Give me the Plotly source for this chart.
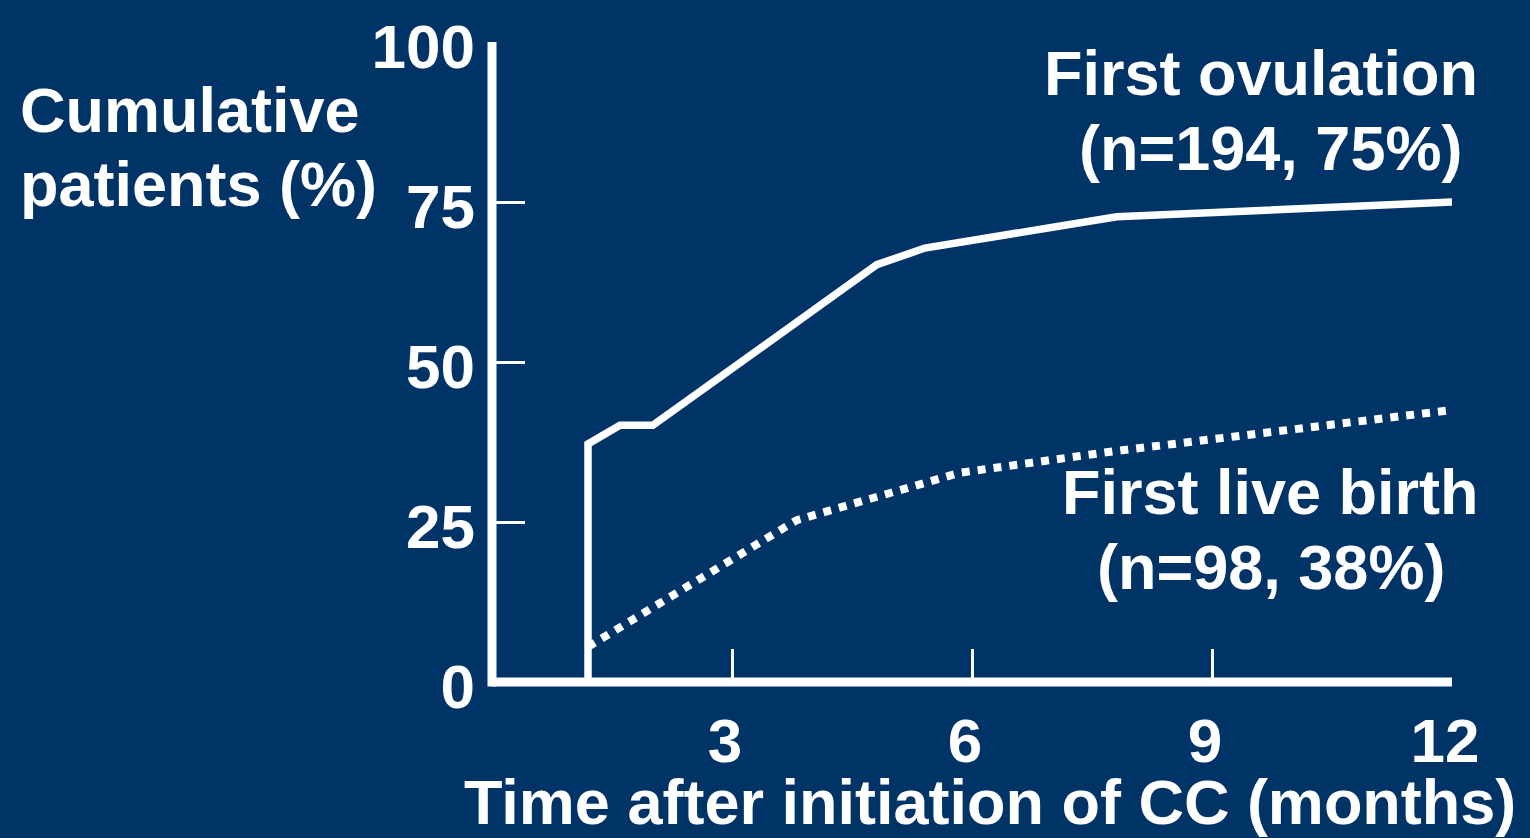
import plotly.graph_objects as go

# Data (months after CC initiation, cumulative %)
ovulation_months = [1.2, 1.2, 1.6, 2.01, 4.81, 5.41, 7.81, 12.0]
ovulation_pct = [0.0, 37.2, 40.1, 40.1, 65.2, 67.8, 72.7, 75.0]

livebirth_months = [1.2, 3.81, 5.85, 7.8, 12.0]
livebirth_pct = [5.5, 25.3, 32.7, 36.1, 42.5]

x_ticks = [3, 6, 9, 12]
y_ticks = [0, 25, 50, 75, 100]

BG = "#003366"
FONT = "Liberation Sans, Arial, sans-serif"
W, H = 1530, 838
L, R, T, B = 492, 78, 42, 156


def px2paper(px, py):
    return (px - L) / (W - L - R), (H - B - py) / (H - T - B)


fig = go.Figure()
fig.add_trace(go.Scatter(x=ovulation_months, y=ovulation_pct, mode="lines",
                         line=dict(color="white", width=7.5), cliponaxis=False,
                         showlegend=False))
fig.add_trace(go.Scatter(x=livebirth_months, y=livebirth_pct, mode="lines",
                         line=dict(color="white", width=8, dash="dot"), cliponaxis=False,
                         showlegend=False))

# axis lines (paper refs so they are not clipped by the plot area)
fig.add_shape(type="line", xref="paper", yref="paper", x0=0, x1=0, y0=-0.007, y1=1.0,
              line=dict(color="white", width=9), layer="above")
fig.add_shape(type="line", xref="paper", yref="paper", x0=0, x1=1.0, y0=0, y1=0,
              line=dict(color="white", width=9), layer="above")

fnt = dict(family=FONT, size=63, color="white", weight="bold")


def ann(text, px, py, xanchor="center"):
    x, y = px2paper(px, py)
    fig.add_annotation(text=text, x=x, y=y, xref="paper", yref="paper",
                       xanchor=xanchor, yanchor="middle", showarrow=False, font=fnt)


ann("Cumulative", 18, 110, "left")
ann("patients (%)", 18, 184, "left")
ann("First ovulation", 1261, 73)
ann("(n=194, 75%)", 1270, 148)
ann("First live birth", 1270, 492)
ann("(n=98, 38%)", 1271, 567)
ann("Time after initiation of CC (months)", 990, 802)

fig.update_layout(
    width=W, height=H,
    margin=dict(l=L, r=R, t=T, b=B, pad=0),
    paper_bgcolor=BG, plot_bgcolor=BG,
    font=dict(family=FONT, color="white", weight="bold"),
    xaxis=dict(range=[0, 12], tickvals=x_ticks, ticktext=[str(v) for v in x_ticks],
               ticks="inside", ticklen=33, tickwidth=3, tickcolor="white",
               ticklabelstandoff=17, ticklabelshift=-7,
               showgrid=False, zeroline=False, showline=False,
               tickfont=dict(family=FONT, size=62, color="white", weight="bold")),
    yaxis=dict(range=[0, 100], tickvals=y_ticks, ticktext=[str(v) for v in y_ticks],
               ticks="inside", ticklen=33, tickwidth=3, tickcolor="white",
               ticklabelstandoff=16, ticklabelshift=4,
               showgrid=False, zeroline=False, showline=False,
               tickfont=dict(family=FONT, size=62, color="white", weight="bold")),
)

fig.write_html("out.html")
